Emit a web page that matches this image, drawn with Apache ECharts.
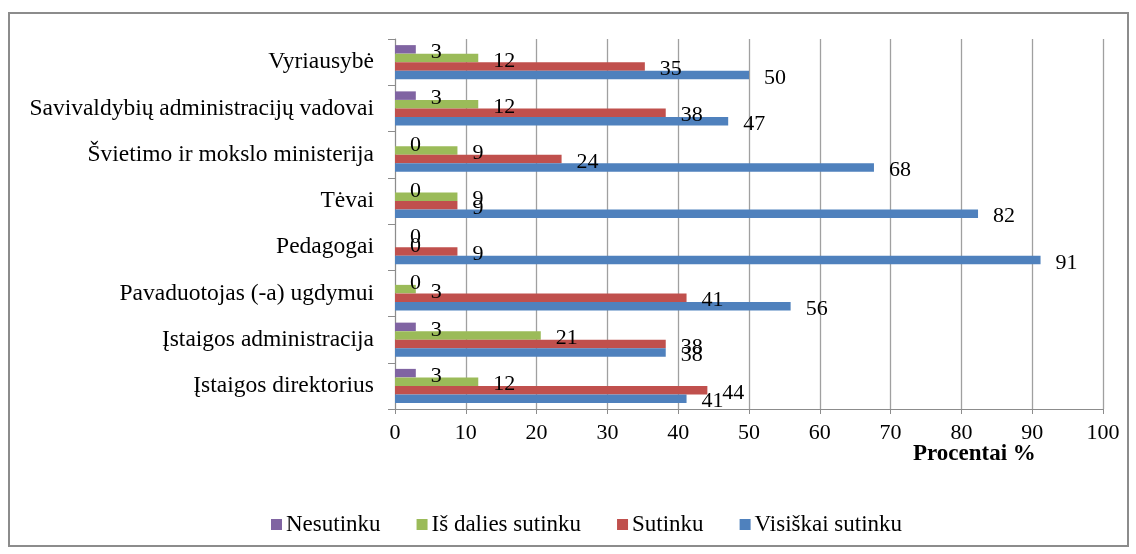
<!DOCTYPE html>
<html>
<head>
<meta charset="utf-8">
<script src="https://cdn.jsdelivr.net/npm/echarts@6/dist/echarts.min.js"></script>
<style>
html,body{margin:0;padding:0;background:#fff;}
#chart{width:1136px;height:554px;}
</style>
</head>
<body>
<div id="chart"></div>
<script>
const categories = ["Vyriausybė","Savivaldybių administracijų vadovai","Švietimo ir mokslo ministerija","Tėvai","Pedagogai","Pavaduotojas (-a) ugdymui","Įstaigos administracija","Įstaigos direktorius"];
const seriesNames = ["Nesutinku","Iš dalies sutinku","Sutinku","Visiškai sutinku"];
const nesutinku = [2.94,2.94,0,0,0,0,2.94,2.94];
const isDaliesSutinku = [11.76,11.76,8.82,8.82,0,2.94,20.59,11.76];
const sutinku = [35.29,38.24,23.53,8.82,8.82,41.18,38.24,44.12];
const visiskaiSutinku = [50,47.06,67.65,82.35,91.18,55.88,38.24,41.18];
const xTicks = [0,10,20,30,40,50,60,70,80,90,100];

const colors = ['#8064A2','#9BBB59','#C0504D','#4F81BD'];
const FONT = '"Liberation Serif","Times New Roman",serif';
const allData = [nesutinku, isDaliesSutinku, sutinku, visiskaiSutinku];

const chart = echarts.init(document.getElementById('chart'));
chart.setOption({
  animation:false,
  backgroundColor:'#fff',
  graphic:[
    {type:'rect',shape:{x:9,y:13,width:1119,height:533},style:{fill:'none',stroke:'#8c8c8c',lineWidth:2}},
    {type:'text',left:913,top:443,style:{text:'Procentai %',font:'bold 23px '+FONT,fill:'#000'}}
  ],
  legend:{
    bottom:13,left:266,itemWidth:11,itemHeight:11,itemGap:36,icon:'rect',
    textStyle:{fontFamily:FONT,fontSize:23,color:'#000',padding:[0,0,0,-1]},
    data:seriesNames
  },
  grid:{left:395,right:33,top:39,bottom:145,containLabel:false},
  xAxis:{
    type:'value',min:0,max:100,interval:10,
    axisLine:{show:true,lineStyle:{color:'#8c8c8c',width:1}},
    axisTick:{show:true,length:5,lineStyle:{color:'#8c8c8c'}},
    axisLabel:{fontFamily:FONT,fontSize:22,color:'#000',margin:13,
      formatter:function(v){return xTicks.indexOf(v)>=0?String(v):'';}},
    splitLine:{show:true,lineStyle:{color:'#a0a0a0',width:1.3}}
  },
  yAxis:{
    type:'category',inverse:true,data:categories,
    axisLine:{show:true,lineStyle:{color:'#8c8c8c'}},
    axisTick:{show:true,length:7,lineStyle:{color:'#8c8c8c'}},
    axisLabel:{fontFamily:FONT,fontSize:23.5,color:'#000',margin:21}
  },
  series: seriesNames.map(function(n,i){
    return {
      name:n,type:'bar',data:allData[i],barWidth:8.5,barGap:'0%',
      itemStyle:{color:colors[i]},
      label:{show:true,position:'right',distance:15,offset:[0,3],
        fontFamily:FONT,fontSize:22,color:'#000',
        formatter:function(p){return String(Math.round(p.value));}}
    };
  })
});
</script>
</body>
</html>
